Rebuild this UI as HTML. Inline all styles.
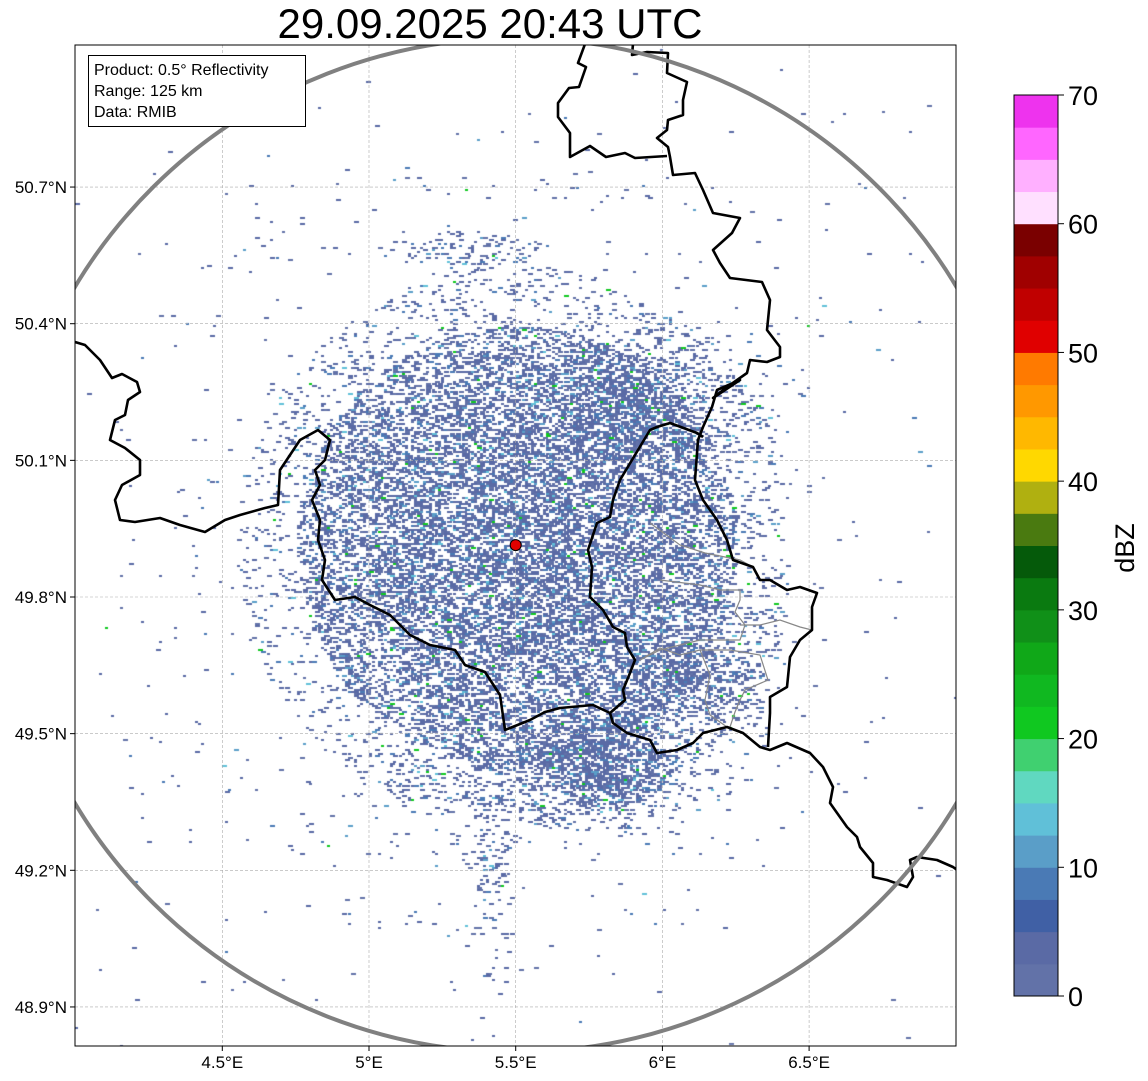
<!DOCTYPE html>
<html><head><meta charset="utf-8"><style>
html,body{margin:0;padding:0;background:#fff;}
#wrap{position:relative;width:1148px;height:1081px;font-family:"Liberation Sans",sans-serif;}
canvas,svg{position:absolute;left:0;top:0;}
</style></head><body>
<div id="wrap">
<canvas id="cv" width="1148" height="1081"></canvas>
<svg id="sv" width="1148" height="1081"></svg>
</div>
<script>
// colorbar data
const cbLevels=[0,2.5,5,7.5,10,12.5,15,17.5,20,22.5,25,27.5,30,32.5,35,37.5,40,42.5,45,47.5,50,52.5,55,57.5,60,62.5,65,67.5,70];
const cbColors=["#6272a8","#5a6aa5","#4060a5","#4a7ab5","#5a9ec8","#60c0d8","#60d8c0","#40d070","#10c820","#10b820","#10a818","#109018","#0a7a10","#055a0a","#4a7a10","#b0b010","#ffd800","#ffb800","#ff9800","#ff7a00","#e00000","#c00000","#a00000","#7a0000","#ffe0ff","#ffb0ff","#ff66ff","#ee33ee"];
const cbTicks=[0,10,20,30,40,50,60,70];
const lonTicks=[4.5,5,5.5,6,6.5];
const lonLabels=["4.5°E","5°E","5.5°E","6°E","6.5°E"];
const latTicks=[48.9,49.2,49.5,49.8,50.1,50.4,50.7];
const latLabels=["48.9°N","49.2°N","49.5°N","49.8°N","50.1°N","50.4°N","50.7°N"];
const radarLon=5.5, radarLat=49.914;

const AX={l:75,t:45,r:956,b:1046};
const xOf=lon=>369+(lon-5)*293.4;
const yOf=lat=>597-(lat-49.8)*455.5;
const cbY=v=>996-v*(901/70);

const NS="http://www.w3.org/2000/svg";
const sv=document.getElementById('sv');
function mk(tag,attrs,parent){const e=document.createElementNS(NS,tag);for(const k in attrs)e.setAttribute(k,attrs[k]);(parent||sv).appendChild(e);return e;}

// speckle field (canvas)
const cv=document.getElementById('cv');const ctx=cv.getContext('2d');
let seed=12345;function rnd(){seed=(seed*1103515245+12345)&0x7fffffff;return seed/0x7fffffff;}
const cx=xOf(radarLon), cy=yOf(radarLat);
function dens(x,y){
  const dx=x-cx,dy=y-cy,r=Math.sqrt(dx*dx+dy*dy);
  let d=0;
  if(r<220)d=0.6-0.0013*r;else if(r<280)d=0.08;else if(r<420)d=0.008;else d=0.0015;
  let a=(x-600)/70,b=(y-770)/40; d+=0.6*Math.exp(-(a*a+b*b));
  a=(x-690)/60;b=(y-680)/45; d+=0.4*Math.exp(-(a*a+b*b));
  a=(x-640)/80;b=(y-400)/50; d+=0.3*Math.exp(-(a*a+b*b));
  a=(x-470)/50;b=(y-250)/15; d+=0.25*Math.exp(-(a*a+b*b));
  a=(x-490)/18;b=(y-850)/110; d+=0.15*Math.exp(-(a*a+b*b));
  a=(x-420)/60;b=(y-780)/25; d+=0.12*Math.exp(-(a*a+b*b));
  if(x>780 && y>420)d*=0.3;
  return Math.min(d,0.85);
}
ctx.save();ctx.beginPath();ctx.rect(AX.l,AX.t,AX.r-AX.l,AX.b-AX.t);ctx.clip();
for(let y=AX.t;y<AX.b;y+=2){for(let x=AX.l;x<AX.r;x+=3){
  const d=dens(x,y);if(rnd()<d){
    const q=rnd();let c="#5a6aa5";
    if(q<0.25)c="#6272a8";else if(q<0.35)c="#4a7ab5";else if(q<0.39)c="#5a9ec8";else if(q<0.405)c="#60c0d8";else if(q<0.415)c="#10c820";
    ctx.fillStyle=c;ctx.fillRect(x,y,rnd()<0.5?3:5,2);
  }}}
ctx.restore();

// grid
const gg=mk('g',{});
lonTicks.forEach(v=>{mk('line',{x1:xOf(v),x2:xOf(v),y1:AX.t,y2:AX.b,stroke:'#aaa','stroke-width':0.6,'stroke-dasharray':'3,2'},gg);});
latTicks.forEach(v=>{mk('line',{x1:AX.l,x2:AX.r,y1:yOf(v),y2:yOf(v),stroke:'#aaa','stroke-width':0.6,'stroke-dasharray':'3,2'},gg);});

const defs=mk('defs',{});const cp=mk('clipPath',{id:'axclip'},defs);mk('rect',{x:AX.l,y:AX.t,width:AX.r-AX.l,height:AX.b-AX.t},cp);
const mapG=mk('g',{'clip-path':'url(#axclip)',});

const gray=[
 [[650,523],[680,545],[705,553],[740,560],[753,567]],
 [[660,580],[700,585],[720,590],[740,590],[740,600],[735,612],[745,625],[740,640],[700,640],[680,645],[660,650],[640,660]],
 [[740,625],[760,625],[780,620],[800,627],[812,630]],
 [[640,660],[660,648],[680,655],[700,650],[730,650],[760,655],[768,680],[745,690],[740,700],[735,712],[730,727]],
 [[700,650],[710,675],[705,700],[710,715],[727,727]]
];
gray.forEach((p,i)=>{const e=mk('polyline',{points:p.map(a=>a.join(',')).join(' '),fill:'none',stroke:'#888','stroke-width':1.2},mapG);});

const borders=[
 [[75,342],[85,345],[100,360],[112,378],[122,374],[137,382],[140,392],[128,400],[125,415],[115,420],[110,440],[125,448],[140,460],[140,475],[122,485],[115,500],[120,520],[135,522],[160,518],[180,525],[205,532],[225,520],[240,515],[265,508],[278,505],[280,470],[300,440],[318,430],[330,440],[325,460],[315,470],[320,485],[312,500],[320,520],[318,540],[325,560],[322,580],[335,600],[355,597],[370,605],[390,615],[410,635],[430,645],[455,650],[465,665],[485,672],[500,695],[505,730],[530,720],[545,712],[560,708],[593,705],[610,713],[613,723],[627,733],[650,740],[657,753],[677,750],[693,743],[703,733],[727,727],[743,733],[760,747],[770,750],[787,743],[810,753],[823,767],[833,787],[830,803],[847,827],[857,837],[860,847],[873,863],[873,877],[887,880],[907,887],[913,877],[910,860],[917,857],[937,860],[953,867],[960,872]],
 [[610,713],[625,700],[623,690],[630,673],[635,660],[627,647],[625,633],[613,627],[603,610],[590,597],[592,567],[588,550],[597,523],[610,517],[613,500],[620,480],[632,460],[650,430],[657,427],[670,423],[697,433],[703,437]],
 [[585,44],[578,63],[586,67],[579,87],[569,88],[558,103],[558,117],[570,133],[570,157],[590,146],[606,157],[625,153],[635,158],[667,156]],
 [[633,44],[632,55],[647,52],[668,53],[667,73],[687,82],[683,100],[683,115],[668,120],[667,130],[657,138],[668,147],[670,157],[673,175],[695,173],[703,190],[713,213],[740,218],[732,233],[713,250],[720,263],[730,278],[762,282],[770,300],[767,330],[780,347],[780,357],[767,362],[750,360],[747,373],[727,387],[713,398],[740,380],[717,390],[712,407],[703,427],[698,440],[695,480],[703,500],[717,520],[727,540],[733,560],[753,567],[760,580],[770,580],[787,590],[800,587],[817,593],[812,607],[812,630],[800,640],[790,657],[787,687],[770,697],[770,713],[768,747]]
];
borders.forEach((p,i)=>{const e=mk('polyline',{points:p.map(a=>a.join(',')).join(' '),fill:'none',stroke:'#000','stroke-width':2.6,'stroke-linejoin':'round'},mapG);});

const ring=mk('ellipse',{cx:cx,cy:cy,rx:512,ry:507,fill:'none',stroke:'#808080','stroke-width':4},mapG);

const site=mk('circle',{cx:cx,cy:cy,r:5.5,fill:'#e00000',stroke:'#000','stroke-width':1});


mk('rect',{x:AX.l,y:AX.t,width:AX.r-AX.l,height:AX.b-AX.t,fill:'none',stroke:'#000','stroke-width':1,});

lonTicks.forEach((v,i)=>{mk('line',{x1:xOf(v),x2:xOf(v),y1:AX.b,y2:AX.b+5,stroke:'#000'});
 const t=mk('text',{x:xOf(v),y:AX.b+22,'text-anchor':'middle','font-size':17,fill:'#000'});t.textContent=lonLabels[i];
 });
latTicks.forEach((v,i)=>{mk('line',{x1:AX.l-5,x2:AX.l,y1:yOf(v),y2:yOf(v),stroke:'#000'});
 const t=mk('text',{x:AX.l-8,y:yOf(v)+6,'text-anchor':'end','font-size':17,fill:'#000'});t.textContent=latLabels[i];
 });

const ti=mk('text',{x:490,y:38,'text-anchor':'middle','font-size':42,fill:'#000'});ti.textContent='29.09.2025 20:43 UTC';


const ib=mk('g',{});
mk('rect',{x:88.5,y:55.5,width:217,height:71,fill:'#fff',stroke:'#000','stroke-width':1},ib);
['Product: 0.5° Reflectivity','Range: 125 km','Data: RMIB'].forEach((s,i)=>{const t=mk('text',{x:94,y:75+i*21,'font-size':16,fill:'#000'},ib);t.textContent=s;});

const cb=mk('g',{});
for(let i=0;i<cbColors.length;i++){
 const y1=cbY(cbLevels[i+1]),y0=cbY(cbLevels[i]);
 const r=mk('rect',{x:1014,y:y1,width:44,height:y0-y1+0.5,fill:cbColors[i]},cb);
 
}
mk('rect',{x:1014,y:cbY(70),width:44,height:cbY(0)-cbY(70),fill:'none',stroke:'#000','stroke-width':1},cb);
cbTicks.forEach(v=>{mk('line',{x1:1058,x2:1064,y1:cbY(v),y2:cbY(v),stroke:'#000'},cb);
 const t=mk('text',{x:1068,y:cbY(v)+10,'font-size':27,fill:'#000'},cb);t.textContent=String(v);
 });
const cl=mk('text',{x:0,y:0,'font-size':27,'text-anchor':'middle',transform:'translate(1134,548) rotate(-90)',fill:'#000'});cl.textContent='dBZ';

</script>
</body></html>
